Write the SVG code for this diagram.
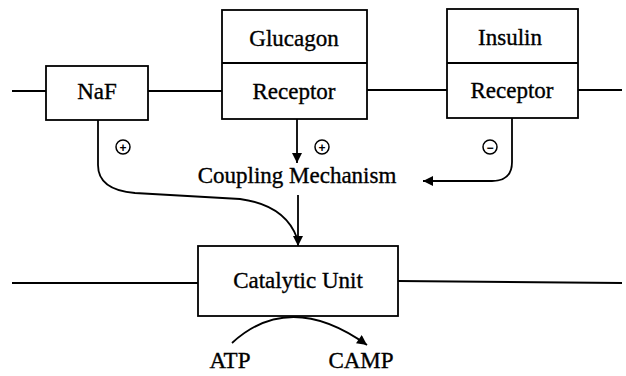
<svg xmlns="http://www.w3.org/2000/svg" width="626" height="376" viewBox="0 0 626 376">
<defs>
<style>
.box{fill:#fff;stroke:#000;stroke-width:1.8}
.ln{fill:none;stroke:#000;stroke-width:1.8}
.t{font-family:"Liberation Serif","Times New Roman",serif;font-size:23px;fill:#000;stroke:#000;stroke-width:0.35;text-anchor:middle}
.sg{fill:#fff;stroke:#000;stroke-width:1.5}
.sgt{font-family:"Liberation Sans",Arial,sans-serif;font-size:12px;font-weight:bold;fill:#000;text-anchor:middle}
</style>
<marker id="ah" viewBox="0 0 10 10" refX="10" refY="5" markerWidth="11" markerHeight="10" markerUnits="userSpaceOnUse" orient="auto">
<path d="M0,0 L10,5 L0,10 Z" fill="#000"/>
</marker>
</defs>
<g id="membranes">
<line class="ln" x1="12" y1="91" x2="46" y2="91"/>
<line class="ln" x1="148" y1="91" x2="222" y2="91"/>
<line class="ln" x1="367" y1="90" x2="447" y2="90"/>
<line class="ln" x1="578" y1="90" x2="622" y2="90"/>
<line class="ln" x1="12" y1="283" x2="198" y2="283"/>
<line class="ln" x1="398" y1="281" x2="622" y2="283"/>
</g>
<g id="connectors">
<line class="ln" x1="297" y1="119" x2="297" y2="163" marker-end="url(#ah)"/>
<path class="ln" d="M98,120 V165 Q98,190 135,193 L240,199 Q285,205 297,238" />
<line class="ln" x1="298" y1="195" x2="298" y2="246" marker-end="url(#ah)"/>
<path class="ln" d="M512,118 V162 Q512,181 492,181 H423" marker-end="url(#ah)"/>
<path class="ln" d="M232,343 Q290,290 367,345" marker-end="url(#ah)"/>
</g>
<g id="naf">
<rect class="box" x="46" y="66" width="102" height="54"/>
<text class="t" x="97" y="99">NaF</text>
</g>
<g id="glucagon-receptor">
<rect class="box" x="222" y="10" width="145" height="109"/>
<line class="ln" x1="222" y1="63" x2="367" y2="63"/>
<text class="t" x="294" y="46">Glucagon</text>
<text class="t" x="294" y="99">Receptor</text>
</g>
<g id="insulin-receptor">
<rect class="box" x="447" y="9" width="131" height="109"/>
<line class="ln" x1="447" y1="63" x2="578" y2="63"/>
<text class="t" x="510" y="45">Insulin</text>
<text class="t" x="512" y="98">Receptor</text>
</g>
<g id="catalytic-unit">
<rect class="box" x="198" y="246" width="200" height="70"/>
<text class="t" x="298" y="288">Catalytic Unit</text>
</g>
<g id="coupling">
<text class="t" x="297" y="183">Coupling Mechanism</text>
</g>
<g id="signs">
<circle class="sg" cx="123" cy="147" r="7"/>
<text class="sgt" x="123" y="151.5">+</text>
<circle class="sg" cx="322" cy="147" r="7"/>
<text class="sgt" x="322" y="151.5">+</text>
<circle class="sg" cx="490" cy="147" r="7"/>
<text class="sgt" x="490" y="151.5">−</text>
</g>
<g id="atp">
<text class="t" x="230" y="368">ATP</text>
</g>
<g id="camp">
<text class="t" x="361" y="368">CAMP</text>
</g>
</svg>
